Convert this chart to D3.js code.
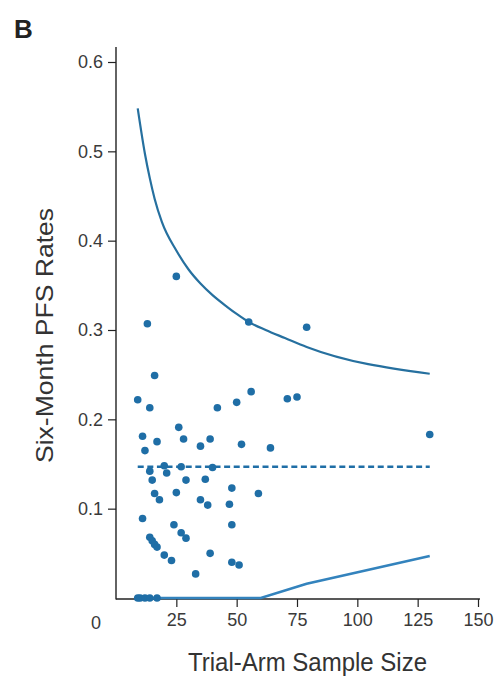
<!DOCTYPE html>
<html>
<head>
<meta charset="utf-8">
<script src="https://cdn.jsdelivr.net/npm/d3@7"></script>
<style>
  html, body { margin: 0; padding: 0; background: #fff; }
  svg { display: block; }
  .tick text { font-family: "Liberation Sans", Arial, sans-serif; fill: #3a3a3a; }
</style>
</head>
<body>
<svg id="chart" width="494" height="680"></svg>
<script>
// Trial arms: sample size and observed six-month PFS rate
const sampleSizes = [25, 13, 55, 79, 130, 16, 9, 14, 26, 11, 17, 28, 39, 35, 12, 42, 50, 56, 71, 75,
  52, 64, 20, 27, 14, 21, 40, 15, 29, 37, 25, 16, 18, 35, 38, 48, 59, 47, 11, 24,
  27, 29, 14, 15, 16, 17, 20, 23, 39, 33, 48, 48, 51, 9, 10, 12, 14, 17];
const pfsRates = [0.360, 0.307, 0.309, 0.303, 0.183, 0.249, 0.222, 0.213, 0.191, 0.181, 0.175, 0.178, 0.178, 0.170, 0.165, 0.213, 0.219, 0.231, 0.223, 0.225,
  0.172, 0.168, 0.148, 0.147, 0.142, 0.140, 0.146, 0.132, 0.132, 0.133, 0.118, 0.117, 0.110, 0.110, 0.104, 0.123, 0.117, 0.105, 0.089, 0.082,
  0.073, 0.067, 0.068, 0.064, 0.060, 0.057, 0.048, 0.042, 0.050, 0.027, 0.082, 0.040, 0.037, 0, 0, 0, 0, 0];

// Pooled rate and the control limits around it
const pooledRate = 0.147;
const pooledRange = [9, 130];
const upperN = [9, 12, 14, 16, 19, 25, 30, 35, 40, 46, 50, 55, 62, 70, 79, 130];
const upperRate = [0.548, 0.497, 0.470, 0.447, 0.421, 0.389, 0.368, 0.352, 0.339, 0.326, 0.318, 0.309, 0.300, 0.291, 0.281, 0.251];
const lowerN = [9, 60, 79, 130];
const lowerRate = [0, 0, 0.016, 0.047];

const yTicks = [0.1, 0.2, 0.3, 0.4, 0.5, 0.6];
const xTicks = [25, 50, 75, 100, 125, 150];

const svg = d3.select("#chart");
const x = d3.scaleLinear().domain([0, 150]).range([116, 478]);
const y = d3.scaleLinear().domain([0, 0.6]).range([598, 62]);

const blue = "#1f6ea6";
const lineBlue = "#26709f";

// Panel letter
svg.append("text")
  .attr("x", 14).attr("y", 38)
  .attr("font-family", "Liberation Sans, Arial, sans-serif")
  .attr("font-weight", "bold").attr("font-size", 26)
  .attr("fill", "#222")
  .text("B");

// Y axis
const yAxis = svg.append("g")
  .attr("transform", `translate(${x(0)},0)`)
  .call(d3.axisLeft(y).tickValues(yTicks).tickSize(8).tickPadding(5).tickFormat(d3.format(".1f")));
yAxis.select(".domain").remove();
yAxis.selectAll(".tick line").attr("stroke", "#222").attr("stroke-width", 1.2);
yAxis.selectAll(".tick text").attr("font-size", 18);

// X axis
const xAxis = svg.append("g")
  .attr("transform", "translate(0,599)")
  .call(d3.axisBottom(x).tickValues(xTicks).tickSize(8).tickPadding(6));
xAxis.select(".domain").remove();
xAxis.selectAll(".tick line").attr("stroke", "#222").attr("stroke-width", 1.2);
xAxis.selectAll(".tick text").attr("font-size", 18);

// Origin label
svg.append("text")
  .attr("x", x(0) - 20).attr("y", 629)
  .attr("text-anchor", "middle")
  .attr("font-family", "Liberation Sans, Arial, sans-serif")
  .attr("font-size", 18).attr("fill", "#3a3a3a")
  .text("0");

// Axis lines
svg.append("line")
  .attr("x1", x(0)).attr("x2", x(0)).attr("y1", 47).attr("y2", 599.5)
  .attr("stroke", "#222").attr("stroke-width", 1.4);
svg.append("line")
  .attr("x1", x(0)).attr("x2", x(150.8)).attr("y1", 599).attr("y2", 599)
  .attr("stroke", "#222").attr("stroke-width", 1.4);

// Axis titles
svg.append("text")
  .attr("transform", `translate(53,${(208 + 463) / 2}) rotate(-90)`)
  .attr("text-anchor", "middle")
  .attr("font-family", "Liberation Sans, Arial, sans-serif")
  .attr("font-size", 24).attr("fill", "#333")
  .attr("textLength", 255).attr("lengthAdjust", "spacingAndGlyphs")
  .text("Six-Month PFS Rates");

svg.append("text")
  .attr("x", (188 + 427) / 2).attr("y", 671)
  .attr("text-anchor", "middle")
  .attr("font-family", "Liberation Sans Narrow, Liberation Sans, Arial, sans-serif")
  .attr("font-size", 26).attr("fill", "#333")
  .attr("textLength", 239).attr("lengthAdjust", "spacingAndGlyphs")
  .text("Trial-Arm Sample Size");

// Control limits
const limitLine = d3.line()
  .x(d => x(d[0]))
  .y(d => y(d[1]))
  .curve(d3.curveMonotoneX);

svg.append("path")
  .datum(d3.zip(upperN, upperRate))
  .attr("d", limitLine)
  .attr("fill", "none").attr("stroke", lineBlue).attr("stroke-width", 2.2);

svg.append("path")
  .datum(d3.zip(lowerN, lowerRate))
  .attr("d", d3.line().x(d => x(d[0])).y(d => y(d[1])))
  .attr("fill", "none").attr("stroke", "#3383bd").attr("stroke-width", 2.6);

// Pooled rate
svg.append("line")
  .attr("x1", x(pooledRange[0])).attr("x2", x(pooledRange[1]))
  .attr("y1", y(pooledRate)).attr("y2", y(pooledRate))
  .attr("stroke", blue).attr("stroke-width", 2.6)
  .attr("stroke-dasharray", "6,3.6");

// Trial arms
svg.append("g")
  .selectAll("circle")
  .data(d3.zip(sampleSizes, pfsRates))
  .join("circle")
  .attr("cx", d => x(d[0]))
  .attr("cy", d => y(d[1]))
  .attr("r", 3.8)
  .attr("fill", blue);
</script>
</body>
</html>
